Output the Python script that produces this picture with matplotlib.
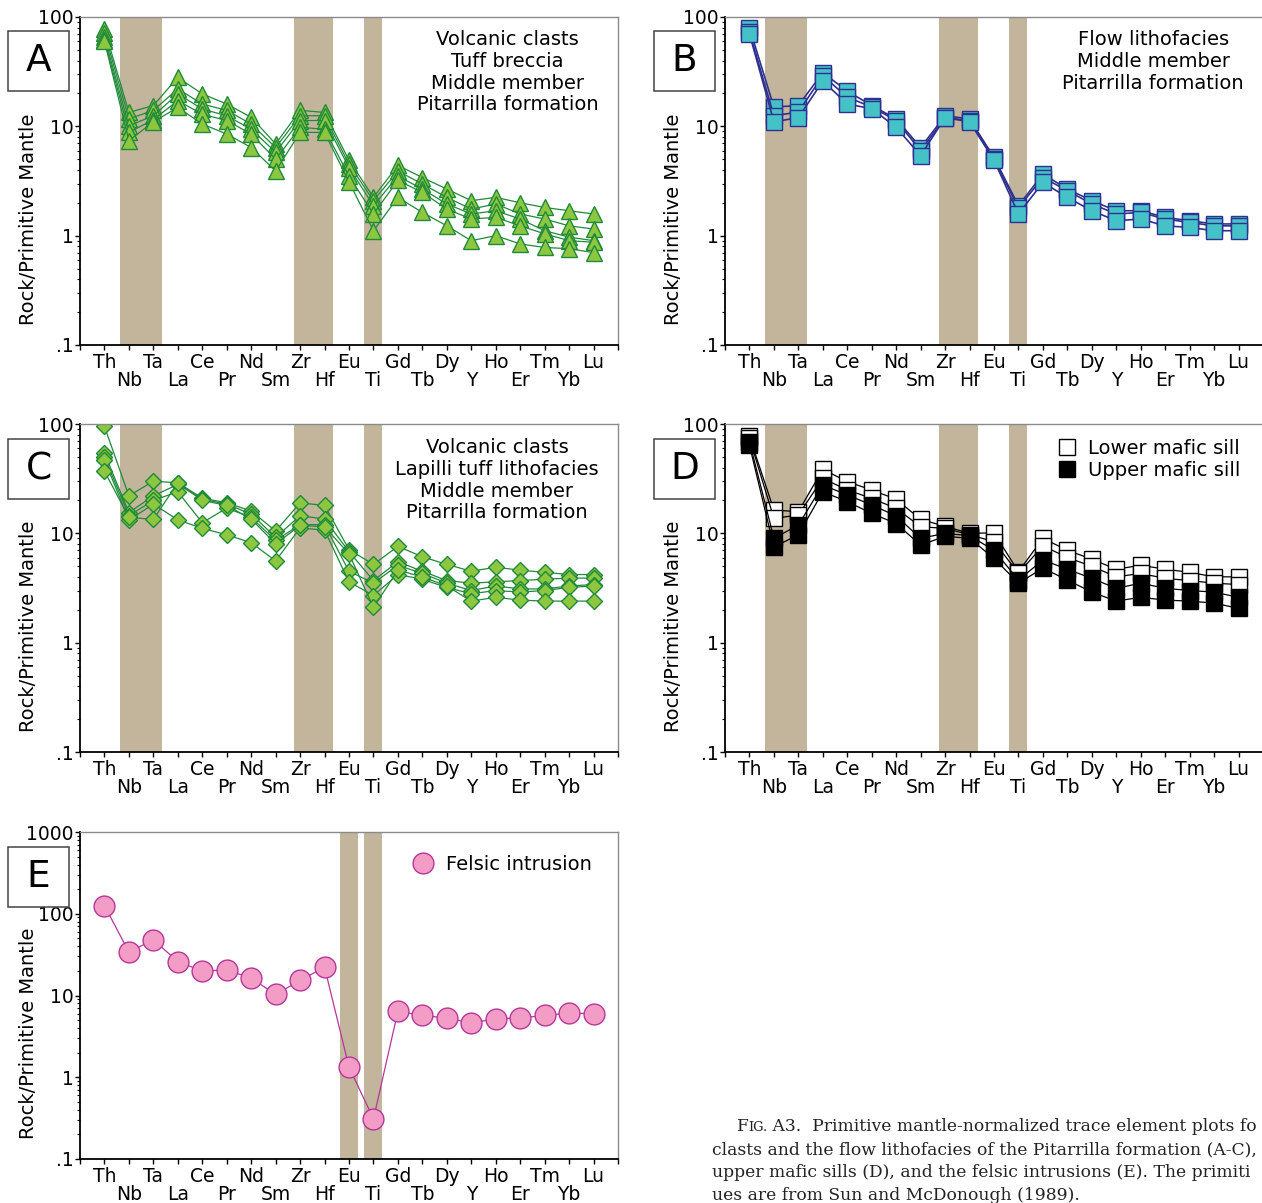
import matplotlib
matplotlib.use('Agg')
import matplotlib.pyplot as plt
from matplotlib.lines import Line2D
from matplotlib.patches import Rectangle
from matplotlib.ticker import FixedLocator, FixedFormatter, LogLocator, NullFormatter
import numpy as np

elements = ['Th', 'Nb', 'Ta', 'La', 'Ce', 'Pr', 'Nd', 'Sm', 'Zr', 'Hf', 'Eu',
            'Ti', 'Gd', 'Tb', 'Dy', 'Y', 'Ho', 'Er', 'Tm', 'Yb', 'Lu']

# A - tuff breccia (5 samples)
tuff_a1 = [78, 13.4, 15.5, 28, 19.8, 16, 12.1, 6.9, 14, 13.4, 4.9, 2.24, 4.4, 3.4, 2.67, 2.09, 2.24, 2.0, 1.81, 1.69, 1.58]
tuff_a2 = [72, 11.7, 14, 22, 16, 14, 10.5, 6.4, 12.5, 12.5, 4.5, 2.09, 3.9, 2.97, 2.24, 1.75, 1.95, 1.58, 1.42, 1.23, 1.15]
tuff_a3 = [66, 10.1, 12.5, 19.8, 14.4, 12.5, 9.4, 5.8, 11.3, 11.3, 4.2, 1.88, 3.5, 2.67, 1.95, 1.58, 1.69, 1.42, 1.11, 0.97, 0.9]
tuff_a4 = [62, 8.8, 11.5, 17.2, 12.9, 11.3, 8.5, 5.0, 9.8, 9.4, 3.5, 1.58, 3.2, 2.49, 1.75, 1.42, 1.47, 1.23, 1.04, 0.9, 0.87]
tuff_a5 = [60, 7.4, 11, 14.9, 10.5, 8.5, 6.4, 3.9, 8.8, 8.8, 3.1, 1.11, 2.24, 1.63, 1.23, 0.9, 1.0, 0.84, 0.78, 0.76, 0.7]

# B - flow lithofacies (3 samples)
flow_b1 = [80, 15, 15.5, 31, 21, 15.5, 11.7, 6.4, 12.5, 11.7, 5.2, 1.88, 3.66, 2.67, 2.09, 1.69, 1.69, 1.47, 1.37, 1.28, 1.28]
flow_b2 = [73, 12.5, 13.5, 29, 18.5, 15, 11.3, 6.0, 12, 11.3, 5.0, 1.8, 3.4, 2.58, 1.95, 1.58, 1.63, 1.42, 1.32, 1.23, 1.23]
flow_b3 = [70, 11, 12, 26, 16, 14.5, 9.8, 5.4, 12, 11, 4.9, 1.58, 3.07, 2.24, 1.69, 1.37, 1.42, 1.23, 1.19, 1.11, 1.11]

# C - lapilli tuff (5 samples)
lap_c1 = [95, 22, 30, 29, 21, 19, 16, 10.5, 19, 18, 7.1, 5.2, 7.6, 6.1, 5.2, 4.5, 4.9, 4.6, 4.4, 4.2, 4.2]
lap_c2 = [54, 15.5, 22, 28, 20.5, 18.5, 15, 9.2, 14.5, 13.5, 6.8, 3.7, 5.5, 4.5, 3.7, 3.5, 3.6, 3.7, 3.8, 3.9, 3.9]
lap_c3 = [50, 14.5, 20, 24, 12.5, 17, 14, 8.6, 12, 12, 4.5, 3.5, 5.1, 4.3, 3.5, 3.0, 3.3, 3.1, 3.1, 3.3, 3.4]
lap_c4 = [47, 13.2, 18.5, 13.3, 11.1, 9.7, 8.2, 5.6, 11.2, 10.7, 3.6, 2.7, 4.2, 3.8, 3.2, 2.8, 3.0, 2.9, 3.0, 3.2, 3.3]
lap_c5 = [37, 14, 13.4, 29, 20, 18, 13.5, 8, 11.8, 11.5, 6.5, 2.1, 4.6, 4.0, 3.3, 2.4, 2.6, 2.45, 2.4, 2.4, 2.4]

# D - mafic sills
lower_d1 = [77, 16.3, 15.8, 38.5, 29.7, 24.9, 20.5, 13.4, 11.6, 10, 10.1, 4.46, 9.0, 7.0, 5.8, 4.7, 5.1, 4.7, 4.4, 4.0, 4.0]
lower_d2 = [74, 13.7, 14.7, 31.8, 24.9, 20.9, 16.9, 11.5, 11.1, 9.7, 8.4, 4.3, 7.7, 6.0, 5.0, 4.0, 4.3, 3.87, 3.7, 3.5, 3.4]
upper_d1 = [69, 9.0, 11.9, 27.7, 22.4, 18.2, 14.4, 9.0, 10, 9.5, 7.0, 3.74, 5.7, 4.7, 3.87, 3.14, 3.5, 3.14, 3.0, 2.9, 2.6]
upper_d2 = [64, 7.5, 9.7, 24, 19.5, 15.2, 12.3, 7.8, 9.4, 9.0, 5.9, 3.5, 4.8, 3.74, 2.9, 2.4, 2.6, 2.45, 2.4, 2.3, 2.06]

# E - felsic intrusion
felsic_e = [126, 34, 48, 26, 19.9, 20.6, 16.3, 10.3, 15.3, 22.2, 1.33, 0.31, 6.4, 5.7, 5.3, 4.6, 5.2, 5.3, 5.7, 6.1, 6.0]

bands_std = [(0.63, 2.34), (7.74, 9.33), (10.63, 11.35)]
bands_e = [(9.63, 10.36), (10.63, 11.35)]
band_color = '#c3b59b'

W, H = 1262, 1203
fig = plt.figure(figsize=(W / 100, H / 100), dpi=100)


def px_axes(left, top, right, bottom):
    return fig.add_axes([left / W, 1 - bottom / H, (right - left) / W, (bottom - top) / H])


def setup(ax, ymax, bands):
    ax.set_yscale('log')
    ax.set_ylim(0.1, ymax)
    ax.set_xlim(-1, 21)
    for x0, x1 in bands:
        ax.axvspan(x0, x1, color=band_color, lw=0, zorder=0)
    even = list(range(0, 21, 2))
    odd = list(range(1, 21, 2))
    ax.set_xticks([-1] + even + [21])
    ax.set_xticklabels([''] + [elements[i] for i in even] + [''])
    ax.set_xticks(odd, minor=True)
    ax.set_xticklabels([elements[i] for i in odd], minor=True)
    ax.tick_params(axis='x', which='major', direction='out', length=3.5, width=1, pad=2, labelsize=13.5)
    ax.tick_params(axis='x', which='minor', direction='out', length=3.5, width=1, pad=15, labelsize=13.5)
    yt = [0.1, 1, 10, 100, 1000]
    yl = ['.1', '1', '10', '100', '1000']
    yt, yl = zip(*[(t, l) for t, l in zip(yt, yl) if t <= ymax])
    ax.yaxis.set_major_locator(FixedLocator(yt))
    ax.yaxis.set_major_formatter(FixedFormatter(yl))
    ax.yaxis.set_minor_locator(LogLocator(base=10, subs=np.arange(2, 10)))
    ax.yaxis.set_minor_formatter(NullFormatter())
    ax.tick_params(axis='y', which='major', direction='out', length=3.5, width=1, pad=1, labelsize=13.5)
    ax.tick_params(axis='y', which='minor', direction='out', length=2.2, width=0.8)
    for s in ['left', 'bottom']:
        ax.spines[s].set_linewidth(1.3)
        ax.spines[s].set_color('black')
    for s in ['top', 'right']:
        ax.spines[s].set_linewidth(1)
        ax.spines[s].set_color('#8a8a8a')
    ax.set_ylabel('Rock/Primitive Mantle', fontsize=14)
    ax.yaxis.set_label_coords(-0.078, 0.384)


def letter_box(x0, y0, x1, y1, letter):
    fig.patches.append(Rectangle((x0 / W, 1 - y1 / H), (x1 - x0) / W, (y1 - y0) / H,
                                 transform=fig.transFigure, facecolor='white',
                                 edgecolor='#444444', lw=1.1, zorder=5))
    fig.text((x0 + x1) / 2 / W, 1 - (y0 + y1) / 2 / H, letter, fontsize=27,
             ha='center', va='center', zorder=6)


xs = np.arange(len(elements))

# Panel A
axA = px_axes(80, 17, 618, 345)
setup(axA, 100, bands_std)
for s in [tuff_a1, tuff_a2, tuff_a3, tuff_a4, tuff_a5]:
    axA.plot(xs, s, '-^', color='#1f8a3a', lw=0.9, ms=12, mfc='#8dc63f', mec='#1f8a3a', mew=1)
axA.text(0.795, 0.96, 'Volcanic clasts\nTuff breccia\nMiddle member\nPitarrilla formation',
         transform=axA.transAxes, ha='center', va='top', fontsize=14, linespacing=1.18)

# Panel B
axB = px_axes(725, 17, 1263, 345)
setup(axB, 100, bands_std)
for s in [flow_b1, flow_b2, flow_b3]:
    axB.plot(xs, s, '-s', color='#2e3190', lw=1.2, ms=11, mfc='#45c2c7', mec='#2e3190', mew=1)
axB.text(0.796, 0.96, 'Flow lithofacies\nMiddle member\nPitarrilla formation',
         transform=axB.transAxes, ha='center', va='top', fontsize=14, linespacing=1.18)

# Panel C
axC = px_axes(80, 424, 618, 752)
setup(axC, 100, bands_std)
for s in [lap_c1, lap_c2, lap_c3, lap_c4, lap_c5]:
    axC.plot(xs, s, '-D', color='#1f8a3a', lw=0.9, ms=8.5, mfc='#8dc63f', mec='#1f8a3a', mew=1)
axC.text(0.775, 0.957, 'Volcanic clasts\nLapilli tuff lithofacies\nMiddle member\nPitarrilla formation',
         transform=axC.transAxes, ha='center', va='top', fontsize=14, linespacing=1.18)

# Panel D
axD = px_axes(725, 424, 1263, 752)
setup(axD, 100, bands_std)
for s in [lower_d1, lower_d2]:
    axD.plot(xs, s, '-s', color='black', lw=0.9, ms=11, mfc='white', mec='black', mew=1)
for s in [upper_d1, upper_d2]:
    axD.plot(xs, s, '-s', color='black', lw=0.9, ms=11, mfc='black', mec='black', mew=1)
hD = [Line2D([], [], ls='none', marker='s', ms=11, mfc='white', mec='black', mew=1),
      Line2D([], [], ls='none', marker='s', ms=11, mfc='black', mec='black', mew=1)]
axD.legend(hD, ['Lower mafic sill', 'Upper mafic sill'], loc='upper left',
           bbox_to_anchor=(0.617, 0.954), frameon=False, handlelength=1.0,
           handletextpad=0.6, borderaxespad=0, borderpad=0, labelspacing=0.15, fontsize=14)

# Panel E
axE = px_axes(80, 832, 618, 1159)
setup(axE, 1000, bands_e)
axE.plot(xs, felsic_e, '-o', color='#b4369a', lw=0.9, ms=15, mfc='#f39cc6', mec='#b4369a', mew=1)
hE = [Line2D([], [], ls='none', marker='o', ms=15, mfc='#f39cc6', mec='#b4369a', mew=1)]
axE.legend(hE, ['Felsic intrusion'], loc='upper left', bbox_to_anchor=(0.619, 0.93),
           frameon=False, handlelength=1.0, handletextpad=0.7, borderaxespad=0,
           borderpad=0, fontsize=14)

letter_box(8, 31, 69, 91, 'A')
letter_box(654, 31, 715, 91, 'B')
letter_box(8, 439, 69, 499, 'C')
letter_box(654, 439, 715, 499, 'D')
letter_box(8, 847, 69, 907, 'E')

# caption (cropped at the page edge in the source)
cap_font = dict(family='DejaVu Serif', color='#222222')
cap_size = 12.3
fig.canvas.draw()
rend = fig.canvas.get_renderer()
y1 = 1 - 1131 / H
t = fig.text(736 / W, y1, 'F', fontsize=cap_size, va='baseline', **cap_font)
bb = t.get_window_extent(rend)
t = fig.text(bb.x1 / W, y1, 'IG.', fontsize=cap_size * 0.76, va='baseline', **cap_font)
bb = t.get_window_extent(rend)
fig.text(bb.x1 / W, y1, ' A3.  Primitive mantle-normalized trace element plots fo',
         fontsize=cap_size, va='baseline', **cap_font)
cap_lines = ['clasts and the flow lithofacies of the Pitarrilla formation (A-C),',
             'upper mafic sills (D), and the felsic intrusions (E). The primiti',
             'ues are from Sun and McDonough (1989).']
for i, line in enumerate(cap_lines):
    fig.text(712 / W, 1 - (1154 + 23 * i) / H, line, fontsize=cap_size, va='baseline', **cap_font)

fig.savefig('out.png', dpi=100)
